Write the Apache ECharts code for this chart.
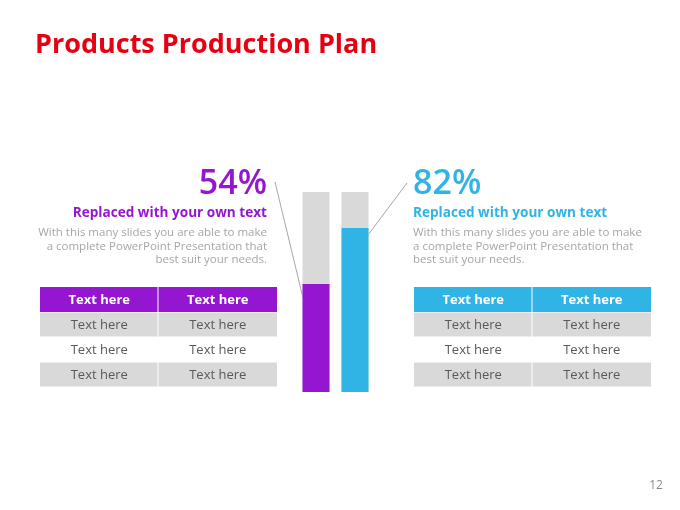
<!DOCTYPE html>
<html>
<head>
<meta charset="utf-8">
<script src="https://cdn.jsdelivr.net/npm/echarts@6/dist/echarts.min.js"></script>
<style>
html, body { margin: 0; padding: 0; background: #fff; }
#main { width: 680px; height: 510px; }
</style>
</head>
<body>
<div id="main"></div>
<script>
// 두 막대 비율 + 좌우 설명 테이블
var categories = ['A', 'B'];
var values = [54, 82];
var barColors = ['#9516d1', '#2fb4e5'];
var percentLabels = ['54%', '82%'];
var subTitles = ['Replaced with your own text', 'Replaced with your own text'];
var bodyLines = [
    'With this many slides you are able to make',
    'a complete PowerPoint Presentation that',
    'best suit your needs.'
];
var tableHeader = ['Text here', 'Text here'];
var tableRows = [
    ['Text here', 'Text here'],
    ['Text here', 'Text here'],
    ['Text here', 'Text here']
];
var pageNo = '12';

var FONT = '"Open Sans", "Noto Sans", sans-serif';
var dom = document.getElementById('main');
var myChart = echarts.init(dom);

function buildTable(x, y, w, color) {
    var items = [];
    var colW = w / 2, rowH = 25;
    // 헤더
    for (var c = 0; c < 2; c++) {
        items.push({
            type: 'rect',
            shape: { x: x + c * colW, y: y, width: colW - (c === 0 ? 1 : 0), height: rowH },
            style: { fill: color }
        });
        items.push({
            type: 'text',
            x: x + c * colW + colW / 2, y: y + rowH / 2 + 1,
            style: { text: tableHeader[c], fill: '#fff', font: 'bold 13px ' + FONT, align: 'center', verticalAlign: 'middle' }
        });
    }
    for (var r = 0; r < tableRows.length; r++) {
        var ry = y + rowH * (r + 1);
        for (var k = 0; k < 2; k++) {
            if (r % 2 === 0) {
                items.push({
                    type: 'rect',
                    shape: { x: x + k * colW, y: ry + 0.5, width: colW - (k === 0 ? 1 : 0), height: rowH - 1 },
                    style: { fill: '#d9d9d9' }
                });
            }
            items.push({
                type: 'text',
                x: x + k * colW + colW / 2, y: ry + rowH / 2 + 1,
                style: { text: tableRows[r][k], fill: '#595959', font: '13px ' + FONT, align: 'center', verticalAlign: 'middle' }
            });
        }
    }
    return items;
}

function buildTexts(x, align, color, i) {
    var items = [];
    items.push({
        type: 'text', x: x, y: 184,
        style: { text: percentLabels[i], fill: color, font: '600 34px ' + FONT, align: align, verticalAlign: 'middle' }
    });
    items.push({
        type: 'text', x: x, y: 213,
        style: { text: subTitles[i], fill: color, font: 'bold 13.6px ' + FONT, align: align, verticalAlign: 'middle' }
    });
    for (var j = 0; j < bodyLines.length; j++) {
        items.push({
            type: 'text', x: x, y: 233 + j * 13.5,
            style: { text: bodyLines[j], fill: '#a6a6a6', font: '11.5px ' + FONT, align: align, verticalAlign: 'middle' }
        });
    }
    return items;
}

var graphics = [];
graphics.push({
    type: 'text', x: 35, y: 45,
    style: { text: 'Products Production Plan', fill: '#e60012', font: 'bold 27px ' + FONT, verticalAlign: 'middle' }
});
graphics = graphics.concat(buildTexts(267, 'right', barColors[0], 0));
graphics = graphics.concat(buildTexts(413, 'left', barColors[1], 1));
graphics = graphics.concat(buildTable(40, 287, 237, barColors[0]));
graphics = graphics.concat(buildTable(414, 287, 237, barColors[1]));
// 연결선
graphics.push({ type: 'line', shape: { x1: 275, y1: 182, x2: 303, y2: 298 }, style: { stroke: '#a6a6a6', lineWidth: 1 } });
graphics.push({ type: 'line', shape: { x1: 407, y1: 183, x2: 368, y2: 235 }, style: { stroke: '#a6a6a6', lineWidth: 1 } });
graphics.push({
    type: 'text', x: 656, y: 486,
    style: { text: pageNo, fill: '#8c8c8c', font: '12px ' + FONT, align: 'center', verticalAlign: 'middle' }
});

option = {
    backgroundColor: '#ffffff',
    animation: false,
    grid: { left: 296.5, width: 78, top: 192, bottom: 118 },
    xAxis: { type: 'category', data: categories, show: false },
    yAxis: { type: 'value', min: 0, max: 100, show: false },
    series: [{
        type: 'bar',
        barWidth: 27,
        showBackground: true,
        backgroundStyle: { color: '#d9d9d9' },
        data: values.map(function (v, i) {
            return { value: v, itemStyle: { color: barColors[i] } };
        })
    }],
    graphic: graphics
};

if (option && typeof option === "object") {
    myChart.setOption(option, true);
}
</script>
</body>
</html>
